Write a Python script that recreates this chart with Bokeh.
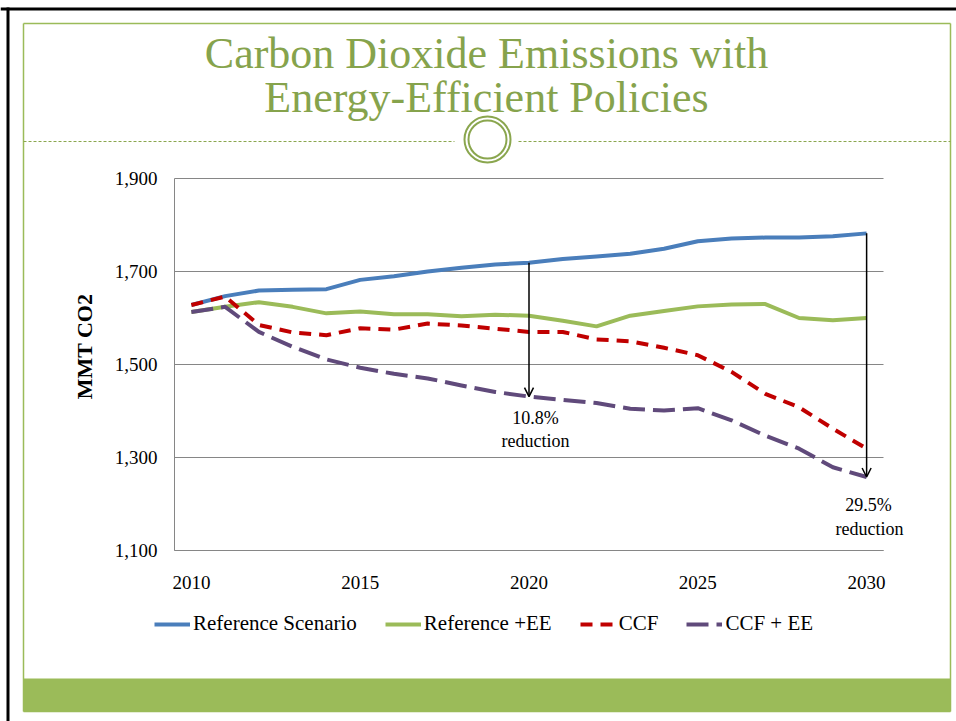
import numpy as np
from bokeh.plotting import figure
from bokeh.models import (Range1d, FixedTicker, NumeralTickFormatter, Label, Arrow,
                          OpenHead, Legend, LegendItem, LinearAxis)
from bokeh.embed import file_html
from bokeh.resources import INLINE

# ---------------- data ----------------
years = list(range(2010, 2031))
reference_scenario = [1628, 1647, 1659, 1661, 1662, 1682, 1690, 1700, 1708, 1715, 1719,
                      1727, 1732, 1738, 1749, 1765, 1771, 1773, 1773, 1776, 1782]
reference_ee = [1613, 1624, 1634, 1624, 1610, 1614, 1608, 1608, 1604, 1607, 1605,
                1594, 1582, 1605, 1615, 1625, 1629, 1630, 1600, 1595, 1600]
ccf = [1628, 1646, 1585, 1569, 1563, 1578, 1575, 1588, 1584, 1577, 1570,
       1570, 1554, 1550, 1536, 1520, 1484, 1437, 1408, 1362, 1319]
ccf_ee = [1613, 1624, 1570, 1538, 1511, 1493, 1480, 1470, 1455, 1441, 1431,
          1424, 1417, 1405, 1401, 1406, 1380, 1347, 1319, 1279, 1258]
x_ticks = [2010, 2015, 2020, 2025, 2030]
y_ticks = [1100, 1300, 1500, 1700, 1900]
series_names = ["Reference Scenario", "Reference +EE", "CCF", "CCF + EE"]
title_lines = ["Carbon Dioxide Emissions with", "Energy-Efficient Policies"]
y_title = "MMT CO2"
notes = [("10.8%", "reduction", 2020), ("29.5%", "reduction", 2030)]

SERIF = "Liberation Serif"
GREEN = "#9bbb59"
TITLE_GREEN = "#86a34c"
DECO = "#8aa64e"

W, H = 956, 721
# plot-area placement on the canvas (px)
FL, FR, FT, FB = 174, 883, 178, 550
X0, X1 = 2009.5, 2030.5
Y0, Y1 = 1100, 1900
ppx = (FR - FL) / (X1 - X0)
ppy = (FB - FT) / (Y1 - Y0)

p = figure(width=W, height=H, output_backend="svg", toolbar_location=None,
           x_axis_location=None, y_axis_location=None,
           x_range=Range1d(X0 - FL / ppx, X1 + (W - FR) / ppx),
           y_range=Range1d(Y0 - (H - FB) / ppy, Y1 + FT / ppy),
           min_border=0, min_border_left=0, min_border_right=0,
           min_border_top=0, min_border_bottom=0)
p.outline_line_color = None
p.background_fill_color = "white"
p.border_fill_color = "white"
p.xgrid.visible = False
p.ygrid.visible = False

# canvas-pixel helper ranges for the slide decorations
p.extra_x_ranges = {"px": Range1d(0, W)}
p.extra_y_ranges = {"py": Range1d(H, 0)}

# ---- slide decorations ----
p.quad(left=[23], right=[950], top=[678], bottom=[711], x_range_name="px", y_range_name="py",
       fill_color=GREEN, line_color=None)
p.segment(x0=[23, 950, 23, 23], y0=[23, 23, 23, 711], x1=[23, 950, 950, 950], y1=[711, 711, 23, 711],
          x_range_name="px", y_range_name="py", line_color=GREEN, line_width=1.5)
p.segment(x0=[23, 518], y0=[141, 141], x1=[454, 950], y1=[141, 141],
          x_range_name="px", y_range_name="py", line_color=DECO, line_width=1, line_dash="3 2")
p.circle(x=[487, 487], y=[139, 139], radius=[23, 19], x_range_name="px", y_range_name="py",
         fill_color=None, line_color=DECO, line_width=2)
p.segment(x0=[0, 7.5], y0=[8.5, 7], x1=[W, 7.5], y1=[8.5, H], x_range_name="px", y_range_name="py",
          line_color="black", line_width=3)

# ---- grid & axes ----
p.segment(x0=[X0] * len(y_ticks), y0=y_ticks, x1=[X1] * len(y_ticks), y1=y_ticks,
          line_color="#868686", line_width=1)

yax = LinearAxis(fixed_location=X0, bounds=(Y0, Y1), ticker=FixedTicker(ticks=y_ticks),
                 formatter=NumeralTickFormatter(format="0,0"))
xax = LinearAxis(fixed_location=Y0, bounds=(X0, X1), ticker=FixedTicker(ticks=x_ticks))
for ax in (xax, yax):
    ax.axis_line_color = "#868686"
    ax.major_tick_line_color = None
    ax.minor_tick_line_color = None
    ax.major_tick_out = 0
    ax.major_tick_in = 0
    ax.major_label_text_font = SERIF
    ax.major_label_text_font_size = "19px"
    ax.major_label_text_color = "black"
yax.major_label_standoff = 17
xax.major_label_standoff = 25
p.add_layout(yax, "left")
p.add_layout(xax, "below")

# ---- series ----
r1 = p.line(years, reference_scenario, line_color="#4a7ebb", line_width=4, line_join="round")
r2 = p.line(years, reference_ee, line_color=GREEN, line_width=4, line_join="round")
r3 = p.line(years, ccf, line_color="#c00000", line_width=4, line_dash="12 8", line_join="round")
r4 = p.line(years, ccf_ee, line_color="#604a7b", line_width=4, line_dash="22 8", line_join="round")

legend = Legend(items=[LegendItem(label=n, renderers=[r]) for n, r in zip(series_names, [r1, r2, r3, r4])],
                orientation="horizontal", location=(154, H - 636),
                label_text_font=SERIF, label_text_font_size="21px", label_text_color="black",
                glyph_width=36, glyph_height=20, label_standoff=3, spacing=28,
                padding=0, margin=0, border_line_color=None, background_fill_alpha=0)
p.add_layout(legend, "center")

# ---- reduction arrows ----
for pct, word, yr in notes:
    i = years.index(yr)
    p.add_layout(Arrow(end=OpenHead(size=9, line_width=1.5, line_color="black"),
                       x_start=yr, y_start=reference_scenario[i], x_end=yr, y_end=ccf_ee[i],
                       line_width=1.5, line_color="black"))
lbl_pos = [(535, 417, 535, 440), (868, 504, 869, 528)]
for (pct, word, yr), (x1, y1, x2, y2) in zip(notes, lbl_pos):
    for t, xx, yy in ((pct, x1, y1), (word, x2, y2)):
        p.add_layout(Label(x=xx, y=yy, text=t, x_range_name="px", y_range_name="py",
                           text_align="center", text_baseline="middle",
                           text_font=SERIF, text_font_size="18px", text_color="black"))

# ---- y title ----
p.add_layout(Label(x=84, y=346, text=y_title, angle=np.pi / 2, x_range_name="px", y_range_name="py",
                   text_align="center", text_baseline="middle", text_font=SERIF,
                   text_font_size="22px", text_font_style="bold", text_color="black"))

# ---- slide title ----
for t, yy in zip(title_lines, [53, 97]):
    p.add_layout(Label(x=486, y=yy, text=t, x_range_name="px", y_range_name="py",
                       text_align="center", text_baseline="middle", text_font=SERIF,
                       text_font_size="44px", text_color=TITLE_GREEN))

open("out.html", "w").write(file_html(p, INLINE))
